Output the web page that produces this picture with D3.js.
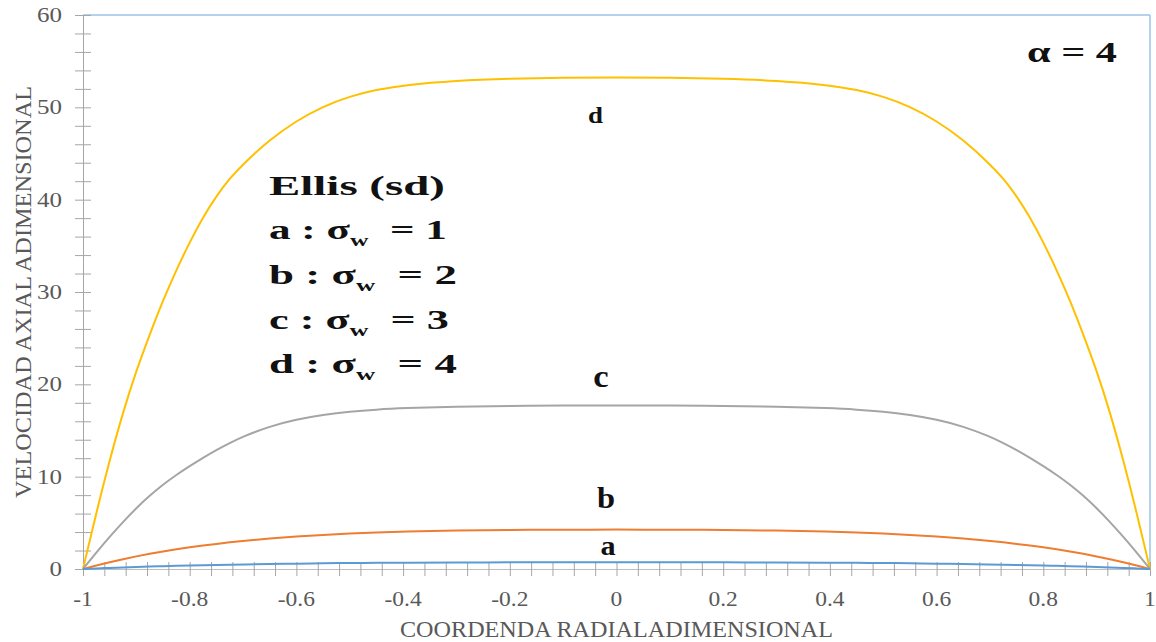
<!DOCTYPE html>
<html>
<head>
<meta charset="utf-8">
<script src="https://cdn.jsdelivr.net/npm/d3@7"></script>
<style>
  body { margin: 0; background: #fff; }
  svg { display: block; }
</style>
</head>
<body>
<svg id="chart" width="1156" height="642"></svg>
<script>
// Dimensionless radial coordinate
const radius = [-1, -0.975, -0.95, -0.925, -0.9, -0.875, -0.85, -0.825, -0.8, -0.775, -0.75, -0.725, -0.7, -0.65, -0.6, -0.55, -0.5, -0.45, -0.4, -0.3, -0.2, -0.1,
  0, 0.1, 0.2, 0.3, 0.4, 0.45, 0.5, 0.55, 0.6, 0.65, 0.7, 0.725, 0.75, 0.775, 0.8, 0.825, 0.85, 0.875, 0.9, 0.925, 0.95, 0.975, 1];

// Dimensionless axial velocity, Ellis fluid, alpha = 4
const velA = [0, 0.06, 0.12, 0.17, 0.22, 0.27, 0.31, 0.34, 0.37, 0.4, 0.43, 0.46, 0.49, 0.54, 0.58, 0.62, 0.65, 0.67, 0.69, 0.71, 0.72, 0.73,
  0.73, 0.73, 0.72, 0.71, 0.69, 0.67, 0.65, 0.62, 0.58, 0.54, 0.49, 0.46, 0.43, 0.4, 0.37, 0.34, 0.31, 0.27, 0.22, 0.17, 0.12, 0.06, 0];
const velB = [0, 0.38, 0.73, 1.06, 1.37, 1.65, 1.91, 2.14, 2.35, 2.54, 2.72, 2.89, 3.04, 3.3, 3.52, 3.7, 3.85, 3.97, 4.06, 4.17, 4.23, 4.26,
  4.27, 4.26, 4.23, 4.17, 4.06, 3.97, 3.85, 3.7, 3.52, 3.3, 3.04, 2.89, 2.72, 2.54, 2.35, 2.14, 1.91, 1.65, 1.37, 1.06, 0.73, 0.38, 0];
const velC = [0, 1.8, 3.5, 5.1, 6.6, 7.95, 9.15, 10.2, 11.15, 12.05, 12.9, 13.65, 14.35, 15.45, 16.2, 16.7, 17.05, 17.27, 17.42, 17.6, 17.67, 17.7,
  17.72, 17.7, 17.67, 17.6, 17.42, 17.27, 17.05, 16.7, 16.2, 15.45, 14.35, 13.65, 12.9, 12.05, 11.15, 10.2, 9.15, 7.95, 6.6, 5.1, 3.5, 1.8, 0];
const velD = [0, 6.1, 11.8, 17.0, 21.5, 25.4, 29.1, 32.4, 35.4, 38.1, 40.4, 42.3, 43.85, 46.5, 48.55, 50.1, 51.2, 51.9, 52.4, 52.9, 53.1, 53.2,
  53.25, 53.2, 53.1, 52.9, 52.4, 51.9, 51.2, 50.1, 48.55, 46.5, 43.85, 42.3, 40.4, 38.1, 35.4, 32.4, 29.1, 25.4, 21.5, 17.0, 11.8, 6.1, 0];

const seriesNames = ["a", "b", "c", "d"];
const seriesColors = ["#5B9BD5", "#ED7D31", "#A5A5A5", "#FFC000"];
const sigmaValues = [1, 2, 3, 4];

const xTickLabels = [-1, -0.8, -0.6, -0.4, -0.2, 0, 0.2, 0.4, 0.6, 0.8, 1];
const yTickLabels = [0, 10, 20, 30, 40, 50, 60];

const xTitle = "COORDENDA RADIALADIMENSIONAL";
const yTitle = "VELOCIDAD AXIAL ADIMENSIONAL";
const legendTitle = "Ellis (sd)";
const alphaLabel = "\u03B1 = 4";

// pick the first installed Times-like face
function installed(name) {
  const ctx = document.createElement("canvas").getContext("2d");
  const probe = "mmmWWWiiilll0123456789";
  ctx.font = `40px "${name}", monospace`;
  const a = ctx.measureText(probe).width;
  ctx.font = `40px "${name}", sans-serif`;
  const b = ctx.measureText(probe).width;
  return a === b;
}
const serifCandidates = ["Liberation Serif", "Tinos", "Times New Roman", "Nimbus Roman", "FreeSerif", "Noto Serif", "DejaVu Serif"];
const serifFace = serifCandidates.find(installed) || "serif";
const serif = `"${serifFace}", serif`;

const svg = d3.select("#chart");
const plotLeft = 83, plotRight = 1150, plotTop = 15, plotBottom = 569;

const x = d3.scaleLinear().domain([-1, 1]).range([plotLeft, plotRight]);
const y = d3.scaleLinear().domain([0, 60]).range([plotBottom, plotTop]);

const axisGray = "#A6A6A6";
const labelGray = "#595959";

// stretch a text element horizontally about an anchor x so it spans a given width
function fitWidth(sel, width, ax) {
  const w = sel.node().getBBox().width;
  const s = width / w;
  sel.attr("transform", `translate(${ax},0) scale(${s},1) translate(${-ax},0)`);
}
function stretch(sel, s, ax) {
  sel.attr("transform", `translate(${ax},0) scale(${s},1) translate(${-ax},0)`);
}

// frame: top and right edges
svg.append("line").attr("x1", plotLeft).attr("x2", plotRight).attr("y1", plotTop).attr("y2", plotTop)
  .attr("stroke", "#9DC3E6").attr("stroke-width", 1.5);
svg.append("line").attr("x1", plotRight).attr("x2", plotRight).attr("y1", plotTop).attr("y2", plotBottom)
  .attr("stroke", "#9DC3E6").attr("stroke-width", 1.5);

// y axis with ticks crossing the line
const yAxis = d3.axisLeft(y).tickValues(d3.range(0, 61, 2)).tickFormat("").tickSizeOuter(0);
const gy = svg.append("g").attr("transform", `translate(${plotLeft},0)`).call(yAxis);
gy.select(".domain").attr("stroke", axisGray);
gy.selectAll(".tick line").attr("x1", -8).attr("x2", 8).attr("stroke", axisGray);

// x axis with ticks crossing the line
const xAxis = d3.axisBottom(x).tickValues(d3.range(-25, 26, 1).map(d => d * 0.04)).tickFormat("").tickSizeOuter(0);
const gx = svg.append("g").attr("transform", `translate(0,${plotBottom})`).call(xAxis);
gx.select(".domain").attr("stroke", "#BFBFBF");
gx.selectAll(".tick line").attr("y1", -7).attr("y2", 7).attr("stroke", axisGray);

// tick labels
svg.append("g").selectAll("text").data(yTickLabels).join("text")
  .attr("x", 62).attr("y", d => y(d)).attr("dy", "0.34em")
  .attr("text-anchor", "end").attr("font-family", serif).attr("font-size", 21)
  .attr("fill", labelGray).text(d => d)
  .each(function () { fitWidth(d3.select(this), this.textContent.length * 12.5, 62); });

svg.append("g").selectAll("text").data(xTickLabels).join("text")
  .attr("x", d => x(d)).attr("y", 606)
  .attr("text-anchor", "middle").attr("font-family", serif).attr("font-size", 21)
  .attr("fill", labelGray).text(d => String(+d.toFixed(1)))
  .each(function (d) { stretch(d3.select(this), 1.12, x(d)); });

// axis titles
svg.append("text").attr("x", (plotLeft + plotRight) / 2).attr("y", 637)
  .attr("text-anchor", "middle").attr("font-family", serif).attr("font-size", 24)
  .attr("fill", labelGray).attr("textLength", 433).attr("lengthAdjust", "spacingAndGlyphs")
  .text(xTitle);
svg.append("text").attr("transform", `translate(31,${(plotTop + plotBottom) / 2}) rotate(-90)`)
  .attr("text-anchor", "middle").attr("font-family", serif).attr("font-size", 24)
  .attr("fill", labelGray).attr("textLength", 412).attr("lengthAdjust", "spacingAndGlyphs")
  .text(yTitle);

// velocity profiles
const series = [velA, velB, velC, velD];
const line = d3.line().x((d, i) => x(radius[i])).y(d => y(d)).curve(d3.curveBasis);
const order = [3, 2, 1, 0];
svg.append("g").selectAll("path").data(order).join("path")
  .attr("d", k => line(series[k]))
  .attr("fill", "none")
  .attr("stroke", k => seriesColors[k])
  .attr("stroke-width", 2);

// curve labels
const curveLabels = [
  { name: "d", x: 595.5, y: 123, size: 24 },
  { name: "c", x: 601, y: 387, size: 31 },
  { name: "b", x: 606, y: 508, size: 29 },
  { name: "a", x: 608, y: 555, size: 27 }
];
svg.append("g").selectAll("text").data(curveLabels).join("text")
  .attr("x", d => d.x).attr("y", d => d.y)
  .attr("text-anchor", "middle").attr("font-family", serif).attr("font-weight", "bold")
  .attr("font-size", d => d.size).attr("fill", "#111").text(d => d.name)
  .each(function (d) { stretch(d3.select(this), 1.12, d.x); });

// legend block
const legendX = 269;
const legendRows = [
  { y: 195, width: 176 },
  { y: 239, width: 178 },
  { y: 284, width: 188 },
  { y: 329, width: 180 },
  { y: 373, width: 188 }
];
const lg = svg.append("g").attr("font-family", serif).attr("font-weight", "bold").attr("fill", "#111");
const titleText = lg.append("text").attr("x", legendX).attr("y", legendRows[0].y)
  .attr("font-size", 27).text(legendTitle);
fitWidth(titleText, legendRows[0].width, legendX);

seriesNames.forEach((name, i) => {
  const row = legendRows[i + 1];
  const t = lg.append("text").attr("x", legendX).attr("y", row.y).attr("font-size", 27);
  t.append("tspan").text(`${name} : \u03C3`);
  t.append("tspan").attr("font-size", 16).attr("dy", 7).text("w");
  t.append("tspan").attr("dy", -7).text(`\u00A0\u00A0= ${sigmaValues[i]}`);
  fitWidth(t, row.width, legendX);
});

// alpha annotation
const alphaText = svg.append("text").attr("x", 1027).attr("y", 62)
  .attr("font-family", serif).attr("font-weight", "bold").attr("font-size", 30)
  .attr("fill", "#111").text(alphaLabel);
fitWidth(alphaText, 90, 1027);
</script>
</body>
</html>
